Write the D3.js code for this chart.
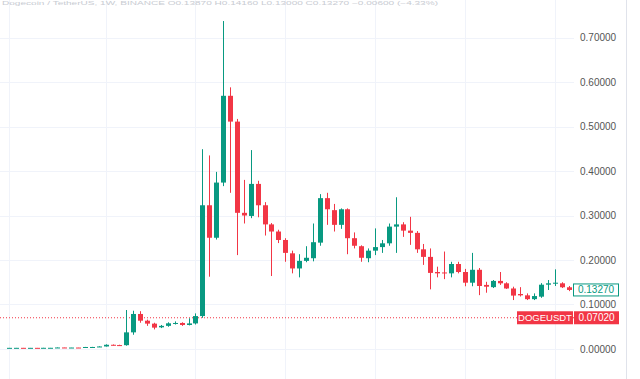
<!DOCTYPE html>
<html><head><meta charset="utf-8">
<script src="https://cdn.jsdelivr.net/npm/d3@7/dist/d3.min.js"></script>
<style>html,body{margin:0;padding:0;background:#fff;}svg{display:block;}</style>
</head><body><div id="chart"></div>
<script>
const startWeek = "2020-09-28";
const open  = [0.00262,0.00262,0.00266,0.00262,0.00263,0.00256,0.00270,0.00272,0.00342,0.00320,0.00330,0.00320,0.00452,0.00455,0.00568,0.00950,0.00880,
  0.00860,0.0374,0.0787,0.0636,0.0570,0.0487,0.0520,0.0577,0.0585,0.0540,0.0575,0.0740,0.323,0.250,0.374,0.569,0.511,0.306,0.299,0.371,0.323,0.280,0.264,0.245,0.215,0.181,0.198,0.204,0.239,0.339,0.312,0.279,0.314,0.249,0.231,0.204,0.221,0.229,0.2375,0.275,0.280,0.266,0.261,0.224,0.207,0.173,0.172,0.170,0.191,0.173,0.149,0.178,0.144,0.139,0.153,0.1476,0.136,0.1236,0.1206,0.112,0.1176,0.1445,0.1467,0.1476,0.1387];
const high  = [0.00268,0.00272,0.00275,0.00270,0.00268,0.00290,0.00280,0.00380,0.00360,0.00340,0.00345,0.00470,0.00480,0.00600,0.01050,0.01020,0.00960,
  0.0876,0.0860,0.0850,0.0660,0.0590,0.0540,0.0600,0.0620,0.0600,0.0690,0.0800,0.449,0.435,0.398,0.737,0.588,0.517,0.380,0.447,0.378,0.330,0.283,0.268,0.249,0.221,0.213,0.231,0.282,0.348,0.351,0.326,0.316,0.316,0.262,0.233,0.226,0.271,0.245,0.282,0.341,0.285,0.297,0.265,0.236,0.226,0.185,0.219,0.196,0.196,0.180,0.216,0.182,0.151,0.155,0.173,0.150,0.140,0.139,0.125,0.125,0.148,0.155,0.179,0.150,0.1416];
const low   = [0.00247,0.00255,0.00258,0.00255,0.00250,0.00252,0.00258,0.00268,0.00300,0.00300,0.00305,0.00312,0.00420,0.00440,0.00550,0.00780,0.00720,
  0.0074,0.0320,0.0590,0.0520,0.0440,0.0470,0.0500,0.0550,0.0520,0.0530,0.0550,0.0700,0.1625,0.246,0.366,0.351,0.211,0.282,0.294,0.296,0.255,0.164,0.238,0.196,0.170,0.161,0.195,0.197,0.232,0.279,0.264,0.270,0.213,0.226,0.196,0.195,0.211,0.216,0.232,0.216,0.252,0.234,0.216,0.189,0.134,0.161,0.157,0.161,0.170,0.141,0.141,0.121,0.1265,0.137,0.144,0.135,0.110,0.118,0.110,0.110,0.115,0.1326,0.1416,0.137,0.130];
const close = [0.00262,0.00266,0.00262,0.00263,0.00256,0.00270,0.00272,0.00342,0.00320,0.00330,0.00320,0.00452,0.00455,0.00568,0.00950,0.00880,0.00860,
  0.0374,0.0787,0.0636,0.0570,0.0480,0.0520,0.0577,0.0585,0.0540,0.0575,0.0740,0.323,0.250,0.374,0.569,0.511,0.306,0.300,0.371,0.323,0.280,0.264,0.245,0.216,0.181,0.198,0.205,0.240,0.339,0.314,0.279,0.314,0.249,0.232,0.205,0.221,0.229,0.2375,0.275,0.280,0.266,0.261,0.224,0.207,0.171,0.170,0.170,0.191,0.173,0.149,0.178,0.1416,0.140,0.153,0.1476,0.136,0.120,0.1206,0.112,0.119,0.1445,0.1476,0.149,0.1387,0.1327];
const priceTicks = [0.0,0.1,0.2,0.3,0.4,0.5,0.6,0.7];
const gridWeeks = ["2020-09-28","2021-01-04","2021-04-05","2021-07-05","2021-10-04","2022-01-03","2022-04-04"];
const symbol = "DOGEUSDT";
const alertPrice = 0.0702;
const lastPrice = 0.1327;
const headerText = "Dogecoin / TetherUS, 1W, BINANCE  O0.13870 H0.14160 L0.13000 C0.13270 −0.00600 (−4.33%)";

const W = 640, H = 379;
const GREEN = "#089981", RED = "#f23645";
const parse = d3.utcParse("%Y-%m-%d");
const t0 = parse(startWeek);
const data = open.map((o,i)=>({date:d3.utcWeek.offset(t0,i), o, h:high[i], l:low[i], c:close[i]}));

const svg = d3.select("#chart").append("svg").attr("width",W).attr("height",H)
  .style("font-family","'Liberation Sans', Arial, sans-serif");
svg.append("rect").attr("width",W).attr("height",H).attr("fill","#fff");

const x = d3.scaleUtc().domain([data[0].date, data[data.length-1].date]).range([8.9, 568.6]);
const y = d3.scaleLinear().domain([0,0.7]).range([349,37.5]);
const plotRight = 574;

// grid
const g = svg.append("g");
g.selectAll("line.h").data(priceTicks).join("line")
  .attr("x1",0).attr("x2",plotRight).attr("y1",d=>Math.round(y(d))+0.5).attr("y2",d=>Math.round(y(d))+0.5)
  .attr("stroke","#f0f3fa").attr("stroke-width",1);
g.selectAll("line.v").data(gridWeeks.map(parse)).join("line")
  .attr("x1",d=>Math.round(x(d))+0.5).attr("x2",d=>Math.round(x(d))+0.5).attr("y1",0).attr("y2",H)
  .attr("stroke","#f0f3fa").attr("stroke-width",1);
// right border
svg.append("line").attr("x1",626.5).attr("x2",626.5).attr("y1",0).attr("y2",H).attr("stroke","#e0e3eb");

// header (faint, tiny, at the very top)
svg.append("text").attr("x",2).attr("y",5).attr("font-size",6).attr("fill","#c8cbd2")
  .attr("textLength",436).attr("lengthAdjust","spacingAndGlyphs").text(headerText);

// axis labels
const axis = d3.axisRight(y).tickValues(priceTicks).tickFormat(d3.format(".5f")).tickSize(0).tickPadding(0);
const ag = svg.append("g").attr("transform","translate(580,0)").call(axis);
ag.select(".domain").remove();
ag.selectAll("text").attr("font-size",10).attr("fill","#555").attr("font-family","'Liberation Sans', Arial, sans-serif");

// alert dotted line
svg.append("line").attr("x1",0).attr("x2",plotRight).attr("y1",y(alertPrice)).attr("y2",y(alertPrice))
  .attr("stroke",RED).attr("stroke-width",1).attr("stroke-dasharray","1,2");

// candles
const bw = 5;
const cg = svg.append("g").selectAll("g").data(data).join("g");
cg.append("line")
  .attr("x1",d=>Math.round(x(d.date))+0.5).attr("x2",d=>Math.round(x(d.date))+0.5)
  .attr("y1",d=>y(d.h)).attr("y2",d=>y(d.l))
  .attr("stroke",d=>d.c>=d.o?GREEN:RED).attr("stroke-width",1);
cg.append("rect")
  .attr("x",d=>Math.round(x(d.date))-2).attr("width",bw)
  .attr("y",d=>y(Math.max(d.o,d.c)))
  .attr("height",d=>Math.max(1,Math.abs(y(d.o)-y(d.c))))
  .attr("fill",d=>d.c>=d.o?GREEN:RED);

// alert label
const ay = y(alertPrice);
svg.append("rect").attr("x",517).attr("y",ay-6.5).attr("width",56).attr("height",13).attr("fill",RED);
svg.append("text").attr("x",545).attr("y",ay+3.5).attr("text-anchor","middle").attr("font-size",9.5).attr("fill","#fff").text(symbol);
svg.append("rect").attr("x",574).attr("y",ay-6.5).attr("width",45).attr("height",13).attr("fill",RED);
svg.append("text").attr("x",596.5).attr("y",ay+3.5).attr("text-anchor","middle").attr("font-size",10).attr("fill","#fff").text(d3.format(".5f")(alertPrice));

// last price label
const ly = y(lastPrice);
svg.append("rect").attr("x",573.5).attr("y",ly-6).attr("width",45).attr("height",12).attr("fill","#fff").attr("stroke",GREEN);
svg.append("text").attr("x",596).attr("y",ly+3.5).attr("text-anchor","middle").attr("font-size",10).attr("fill",GREEN).text(d3.format(".5f")(lastPrice));
</script></body></html>
